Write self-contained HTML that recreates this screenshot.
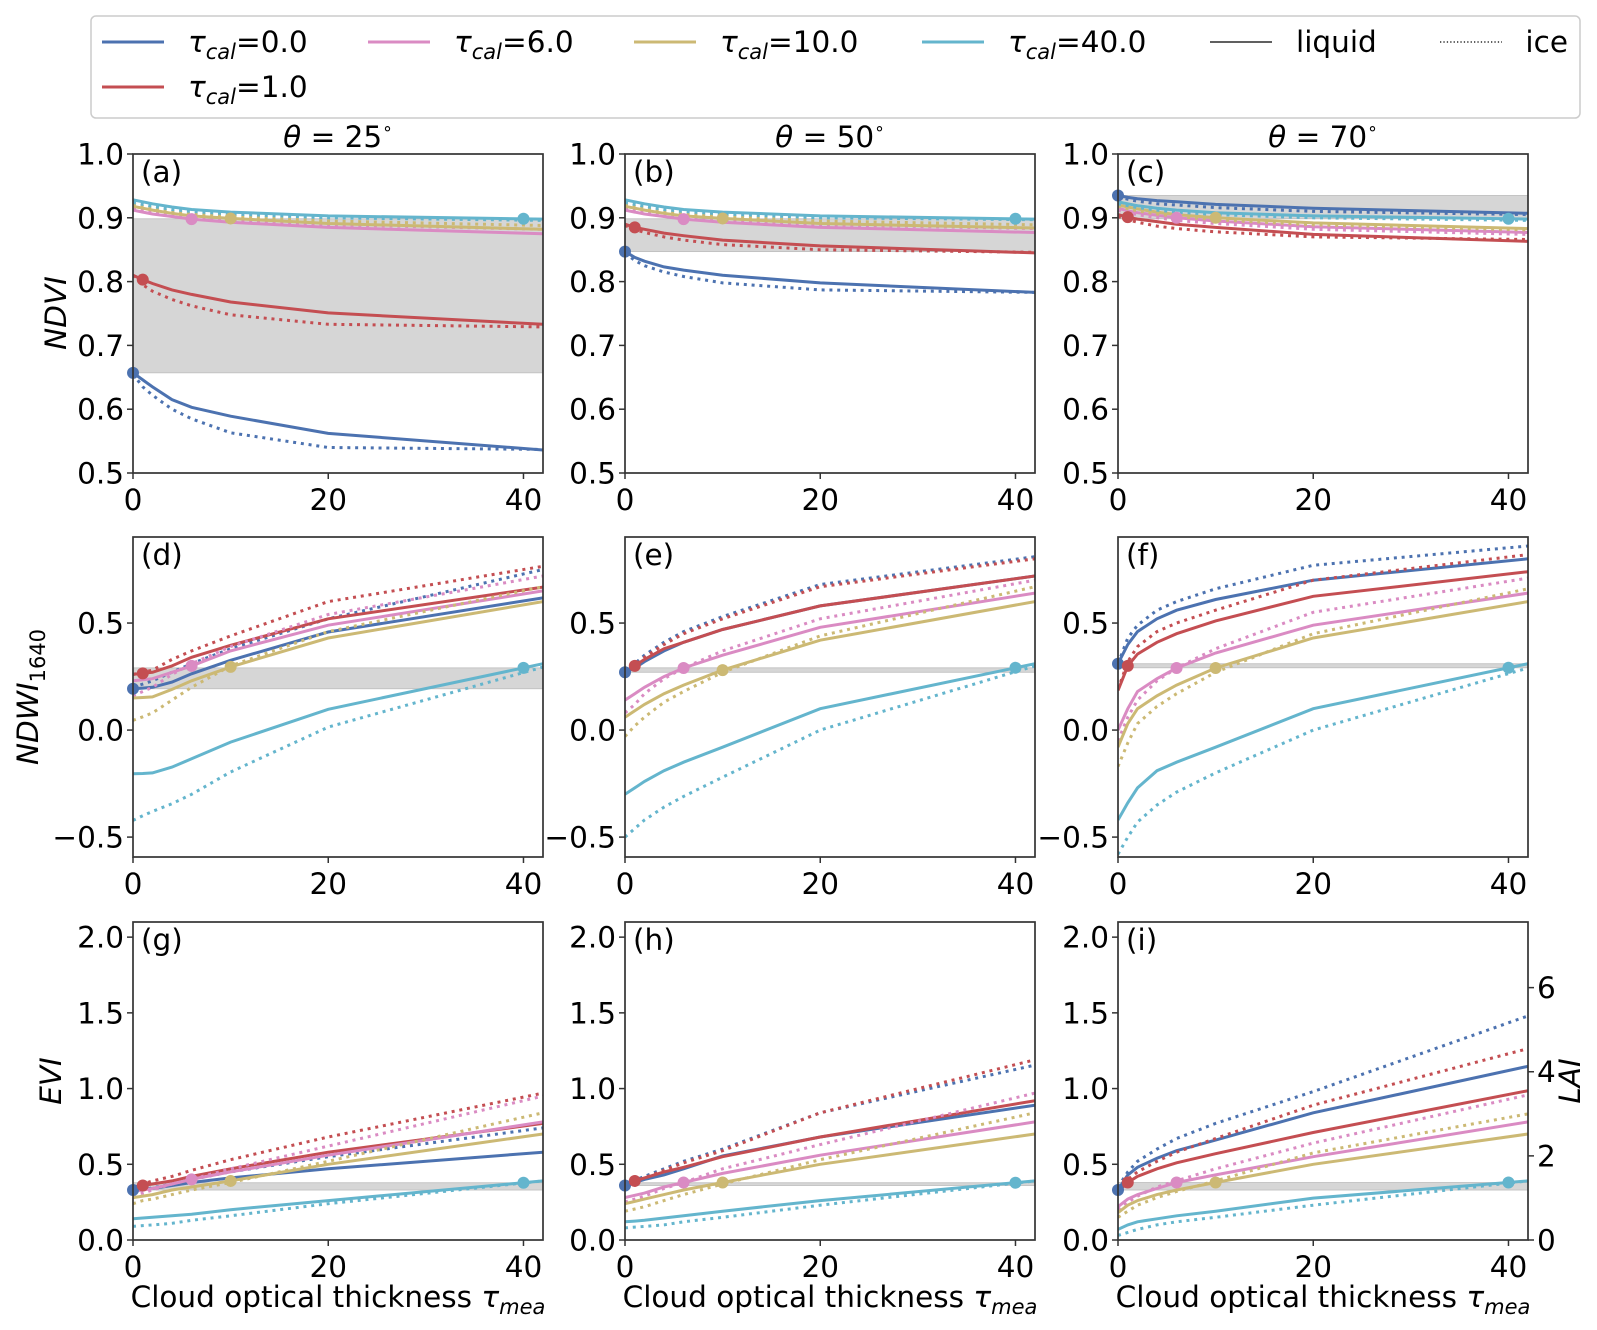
<!DOCTYPE html>
<html><head><meta charset="utf-8"><style>
body{margin:0;background:#fff;}
svg{display:block;font-family:"DejaVu Sans","Liberation Sans",sans-serif;}
</style></head><body>
<svg id="fig" width="1597" height="1330" viewBox="0 0 1597 1330" xmlns="http://www.w3.org/2000/svg">
<rect width="1597" height="1330" fill="#fff"/>
<g id="legend">
<rect x="91" y="16" width="1489" height="102" rx="5" fill="#fff" stroke="#cccccc" stroke-width="1.5"/>
</g>
</svg>
<script>
// ---- data ----
const xs = [0,1,2,4,6,10,20,42];
const tauCal = [0,1,6,10,40];
const seriesLabels = ["0.0","1.0","6.0","10.0","40.0"];
const colors = ["#4C72B0","#C44E52","#DA8BC3","#CCB974","#64B5CD"];
const thetaTitles = ["25","50","70"];
const panelLetters = ["a","b","c","d","e","f","g","h","i"];
// NDVI row
const a_liq = [[0.657,0.646,0.635,0.615,0.603,0.589,0.562,0.536],[0.81,0.803,0.797,0.787,0.78,0.768,0.751,0.733],[0.912,0.909,0.906,0.902,0.898,0.893,0.885,0.875],[0.918,0.915,0.912,0.907,0.903,0.899,0.891,0.882],[0.928,0.925,0.922,0.917,0.913,0.909,0.903,0.898]];
const a_ice = [[0.655,0.635,0.622,0.60,0.585,0.563,0.54,0.537],[0.81,0.795,0.785,0.772,0.762,0.748,0.733,0.729],[0.914,0.911,0.908,0.904,0.901,0.896,0.889,0.882],[0.921,0.918,0.915,0.91,0.906,0.902,0.895,0.888],[0.924,0.921,0.918,0.913,0.91,0.906,0.9,0.896]];
const b_liq = [[0.847,0.838,0.832,0.823,0.818,0.81,0.798,0.783],[0.89,0.885,0.882,0.876,0.872,0.865,0.856,0.845],[0.912,0.909,0.906,0.902,0.898,0.893,0.885,0.877],[0.918,0.915,0.912,0.907,0.903,0.899,0.891,0.884],[0.928,0.925,0.922,0.917,0.913,0.909,0.903,0.898]];
const b_ice = [[0.845,0.833,0.825,0.815,0.808,0.798,0.787,0.783],[0.888,0.882,0.877,0.87,0.865,0.858,0.85,0.846],[0.914,0.911,0.908,0.904,0.901,0.896,0.889,0.883],[0.921,0.918,0.915,0.91,0.906,0.902,0.895,0.889],[0.924,0.921,0.918,0.913,0.91,0.906,0.9,0.897]];
const c_liq = [[0.935,0.932,0.93,0.927,0.925,0.921,0.915,0.907],[0.905,0.901,0.898,0.894,0.89,0.885,0.874,0.863],[0.915,0.911,0.908,0.904,0.9,0.895,0.886,0.877],[0.92,0.917,0.914,0.909,0.905,0.9,0.892,0.883],[0.925,0.922,0.919,0.915,0.912,0.908,0.903,0.898]];
const c_ice = [[0.933,0.929,0.926,0.922,0.92,0.916,0.91,0.905],[0.902,0.897,0.893,0.887,0.883,0.878,0.87,0.866],[0.912,0.908,0.905,0.9,0.896,0.891,0.882,0.874],[0.918,0.914,0.911,0.906,0.902,0.897,0.889,0.881],[0.922,0.919,0.916,0.912,0.909,0.905,0.9,0.896]];
// NDWI row
const d_liq = [[0.193,0.196,0.2,0.224,0.263,0.326,0.458,0.618],[0.26,0.265,0.27,0.3,0.34,0.396,0.52,0.668],[0.23,0.235,0.24,0.27,0.30,0.37,0.49,0.65],[0.15,0.152,0.155,0.19,0.23,0.295,0.43,0.6],[-0.204,-0.203,-0.2,-0.173,-0.134,-0.056,0.097,0.31]];
const d_ice = [[0.2,0.215,0.23,0.27,0.31,0.38,0.52,0.75],[0.26,0.27,0.28,0.33,0.37,0.44,0.6,0.765],[0.16,0.18,0.2,0.26,0.31,0.39,0.54,0.72],[0.045,0.062,0.08,0.14,0.2,0.3,0.46,0.67],[-0.422,-0.4,-0.38,-0.344,-0.3,-0.196,0.014,0.294]];
const e_liq = [[0.27,0.29,0.32,0.37,0.41,0.47,0.58,0.72],[0.27,0.30,0.33,0.38,0.41,0.47,0.58,0.72],[0.14,0.17,0.2,0.25,0.29,0.35,0.48,0.64],[0.06,0.09,0.12,0.17,0.21,0.28,0.42,0.6],[-0.30,-0.27,-0.24,-0.19,-0.15,-0.08,0.1,0.31]];
const e_ice = [[0.27,0.31,0.35,0.41,0.46,0.53,0.68,0.81],[0.27,0.30,0.34,0.4,0.45,0.52,0.67,0.8],[0.08,0.12,0.17,0.24,0.29,0.37,0.52,0.7],[-0.03,0.02,0.06,0.13,0.18,0.27,0.44,0.67],[-0.5,-0.46,-0.42,-0.36,-0.31,-0.22,0.0,0.3]];
const f_liq = [[0.31,0.40,0.46,0.52,0.56,0.61,0.70,0.80],[0.185,0.30,0.355,0.41,0.45,0.51,0.625,0.74],[0.0,0.1,0.18,0.24,0.29,0.36,0.49,0.64],[-0.08,0.03,0.1,0.16,0.21,0.29,0.43,0.6],[-0.42,-0.34,-0.27,-0.19,-0.15,-0.08,0.1,0.31]];
const f_ice = [[0.31,0.43,0.49,0.56,0.60,0.66,0.77,0.86],[0.19,0.32,0.39,0.46,0.5,0.56,0.7,0.82],[-0.05,0.06,0.14,0.23,0.29,0.38,0.55,0.71],[-0.17,-0.06,0.03,0.11,0.17,0.27,0.45,0.66],[-0.58,-0.5,-0.43,-0.35,-0.29,-0.2,0.0,0.29]];
// EVI row
const g_liq = [[0.33,0.335,0.34,0.36,0.38,0.41,0.47,0.58],[0.35,0.36,0.37,0.39,0.42,0.47,0.58,0.77],[0.32,0.33,0.34,0.37,0.40,0.45,0.56,0.78],[0.28,0.29,0.3,0.33,0.35,0.39,0.5,0.7],[0.14,0.145,0.15,0.16,0.17,0.2,0.26,0.39]];
const g_ice = [[0.32,0.33,0.345,0.37,0.4,0.45,0.55,0.74],[0.35,0.37,0.39,0.42,0.46,0.53,0.68,0.97],[0.3,0.31,0.33,0.37,0.4,0.47,0.62,0.95],[0.24,0.26,0.27,0.3,0.33,0.38,0.52,0.84],[0.09,0.095,0.1,0.11,0.13,0.16,0.24,0.39]];
const h_liq = [[0.36,0.38,0.4,0.43,0.47,0.555,0.68,0.89],[0.37,0.39,0.41,0.45,0.48,0.55,0.68,0.92],[0.28,0.295,0.31,0.35,0.38,0.44,0.56,0.78],[0.24,0.255,0.27,0.3,0.33,0.38,0.5,0.7],[0.12,0.125,0.13,0.145,0.16,0.19,0.26,0.39]];
const h_ice = [[0.37,0.395,0.42,0.47,0.52,0.6,0.84,1.155],[0.37,0.39,0.41,0.46,0.51,0.59,0.84,1.19],[0.25,0.27,0.29,0.34,0.38,0.47,0.63,0.97],[0.19,0.205,0.22,0.26,0.3,0.37,0.53,0.84],[0.08,0.085,0.09,0.1,0.12,0.15,0.23,0.39]];
const i_liq = [[0.33,0.43,0.48,0.54,0.59,0.66,0.84,1.147],[0.32,0.38,0.42,0.47,0.51,0.57,0.71,0.986],[0.22,0.27,0.3,0.34,0.38,0.43,0.55,0.78],[0.18,0.23,0.26,0.3,0.33,0.38,0.5,0.7],[0.07,0.1,0.12,0.14,0.16,0.19,0.277,0.39]];
const i_ice = [[0.35,0.45,0.52,0.6,0.67,0.77,0.98,1.48],[0.33,0.4,0.45,0.52,0.58,0.67,0.89,1.264],[0.2,0.25,0.29,0.35,0.39,0.47,0.64,0.958],[0.15,0.19,0.23,0.28,0.32,0.39,0.575,0.833],[0.03,0.05,0.07,0.1,0.12,0.15,0.23,0.39]];
const rowTicks = [[0.5,0.6,0.7,0.8,0.9,1.0],[-0.5,0.0,0.5],[0.0,0.5,1.0,1.5,2.0]];
const rowTickLabels = [["0.5","0.6","0.7","0.8","0.9","1.0"],["\u22120.5","0.0","0.5"],["0.0","0.5","1.0","1.5","2.0"]];
const xTicks = [0,20,40];
const laiTicks = [0,2,4,6];

// ---- layout ----
const NS = "http://www.w3.org/2000/svg";
const svg = document.getElementById("fig");
const colLeft = [133,625,1118], PW = 410, XMAX = 42.0;
const rows = [{top:154,bot:473,min:0.5,max:1.0},{top:537,bot:857,min:-0.593,max:0.902},{top:922,bot:1240,min:0,max:2.1}];
const panelData = [[a_liq,a_ice],[b_liq,b_ice],[c_liq,c_ice],[d_liq,d_ice],[e_liq,e_ice],[f_liq,f_ice],[g_liq,g_ice],[h_liq,h_ice],[i_liq,i_ice]];
const LAIMAX = 7.56;
const FS = 29.5;

function mk(tag, attrs, parent){const e=document.createElementNS(NS,tag);for(const k in attrs)e.setAttribute(k,attrs[k]);(parent||svg).appendChild(e);return e;}
function interp(ys,x){for(let k=0;k<xs.length-1;k++){if(x>=xs[k]&&x<=xs[k+1]){const t=(x-xs[k])/(xs[k+1]-xs[k]);return ys[k]+t*(ys[k+1]-ys[k]);}}return ys[ys.length-1];}

for(let r=0;r<3;r++){
  for(let c=0;c<3;c++){
    const p=r*3+c, L=colLeft[c], R=rows[r];
    const xS=v=>L+v/XMAX*PW;
    const yS=v=>R.bot-(v-R.min)/(R.max-R.min)*(R.bot-R.top);
    const g=mk("g",{});
    
    
    const clipId="clip"+p;
    const cp=mk("clipPath",{id:clipId},g);
    mk("rect",{x:L,y:R.top,width:PW,height:R.bot-R.top},cp);
    const [liq,ice]=panelData[p];
    const b1=interp(liq[0],tauCal[0]), b2=interp(liq[4],tauCal[4]);
    const band=mk("rect",{x:L,y:yS(Math.max(b1,b2)),width:PW,height:Math.max(1.5,Math.abs(yS(b1)-yS(b2))),fill:"#d6d6d6",stroke:"#bdbdbd","stroke-width":"0.8","clip-path":"url(#"+clipId+")"},g);
    
    
    for(let s=0;s<5;s++){
      [["liquid",liq],["ice",ice]].forEach(([ph,arr])=>{
        const d=xs.map((x,k)=>(k?"L":"M")+xS(x).toFixed(1)+","+yS(arr[s][k]).toFixed(1)).join("");
        const ln=mk("path",{d:d,fill:"none",stroke:colors[s],"stroke-width":"3","clip-path":"url(#"+clipId+")"},g);
        if(ph==="ice"){ln.setAttribute("stroke-dasharray","3 4.8");}
        
        
      });
    }
    for(let s=0;s<5;s++){
      const dot=mk("circle",{cx:xS(tauCal[s]),cy:yS(interp(liq[s],tauCal[s])),r:6,fill:colors[s]},g);
      
      
    }
    const fr=mk("rect",{x:L,y:R.top,width:PW,height:R.bot-R.top,fill:"none",stroke:"#333","stroke-width":"1.7"},g);
    
    
    rowTicks[r].forEach((v,k)=>{
      const y=yS(v);
      mk("line",{x1:L-6,x2:L,y1:y,y2:y,stroke:"#333","stroke-width":"1.5"},g);
      const t=mk("text",{x:L-9,y:y+10.5,"text-anchor":"end","font-size":FS,fill:"#000"},g);
      t.textContent=rowTickLabels[r][k];
      
      
    });
    xTicks.forEach(v=>{
      const x=xS(v);
      mk("line",{x1:x,x2:x,y1:R.bot,y2:R.bot+6,stroke:"#333","stroke-width":"1.5"},g);
      const t=mk("text",{x:x,y:R.bot+37,"text-anchor":"middle","font-size":FS,fill:"#000"},g);
      t.textContent=String(v);
      
      
    });
    const pl=mk("text",{x:L+8,y:R.top+28,"font-size":FS,fill:"#000"},g);
    pl.textContent="("+panelLetters[p]+")";
    
    
    if(r===0){
      const tt=mk("text",{x:L+PW/2,y:147,"text-anchor":"middle","font-size":FS,fill:"#000"},g);
      tt.innerHTML='<tspan font-style="italic">θ</tspan> = '+thetaTitles[c]+'<tspan font-size="17" dy="-13">∘</tspan>';
      
      
    }
    if(r===2){
      const xl=mk("text",{x:L+PW/2,y:1307,"text-anchor":"middle","font-size":FS,fill:"#000"},g);
      xl.innerHTML='Cloud optical thickness <tspan font-style="italic">τ</tspan><tspan font-style="italic" font-size="21" dy="7">mea</tspan>';
      
      
    }
    if(p===8){
      const yL=v=>R.bot-v/LAIMAX*(R.bot-R.top);
      laiTicks.forEach(v=>{
        const y=yL(v);
        mk("line",{x1:L+PW,x2:L+PW+6,y1:y,y2:y,stroke:"#333","stroke-width":"1.5"},g);
        const t=mk("text",{x:L+PW+9,y:y+10.5,"font-size":FS,fill:"#000"},g);
        t.textContent=String(v);
        
        
      });
    }
  }
}
function ylab(x,y,html,name){const t=mk("text",{x:0,y:0,"text-anchor":"middle","font-size":FS,fill:"#000",transform:"translate("+x+","+y+") rotate(-90)"});t.innerHTML=html;}
ylab(66,313,'<tspan font-style="italic">NDVI</tspan>','y-axis-title-ndvi');
ylab(38,697,'<tspan font-style="italic">NDWI</tspan><tspan font-size="21" dy="7">1640</tspan>','y-axis-title-ndwi');
ylab(61,1081,'<tspan font-style="italic">EVI</tspan>','y-axis-title-evi');
ylab(1580,1081,'<tspan font-style="italic">LAI</tspan>','y-axis-title-lai');

const lg=document.getElementById("legend");
const legX=[102,368,634,922,102];
const legY=[42,42,42,42,87];
const legOrder=[0,2,3,4,1];
legOrder.forEach((s,k)=>{
  const ln=mk("line",{x1:legX[k],x2:legX[k]+62,y1:legY[k],y2:legY[k],stroke:colors[s],"stroke-width":"3"},lg);
  
  
  const t=mk("text",{x:legX[k]+86,y:legY[k]+10,"font-size":"29.5",fill:"#000"},lg);
  t.innerHTML='<tspan font-style="italic">τ</tspan><tspan font-style="italic" font-size="21" dy="7">cal</tspan><tspan dy="-7">='+seriesLabels[s]+'</tspan>';
  
  
});
const lq=mk("line",{x1:1210,x2:1272,y1:42,y2:42,stroke:"#000","stroke-width":"1.3"},lg);


const lqt=mk("text",{x:1296,y:52,"font-size":"29.5",fill:"#000"},lg);
lqt.textContent="liquid";


const ic=mk("line",{x1:1440,x2:1502,y1:42,y2:42,stroke:"#000","stroke-width":"1.3","stroke-dasharray":"1.3 2.1"},lg);


const ict=mk("text",{x:1568,y:52,"font-size":"29.5","text-anchor":"end",fill:"#000"},lg);
ict.textContent="ice";


</script>
</body></html>
